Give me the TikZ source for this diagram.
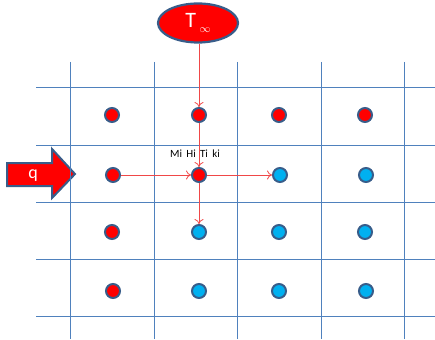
\documentclass[tikz,border=0pt]{standalone}
\usepackage{fontspec}
\setmainfont{Carlito}
\usetikzlibrary{shapes.geometric,arrows.meta}
\definecolor{gridblue}{HTML}{4F81BD}
\definecolor{edgeblue}{HTML}{385D8A}
\definecolor{hotred}{HTML}{FF0000}
\definecolor{coldblue}{HTML}{00B0F0}
\definecolor{flowred}{HTML}{F04848}
\tikzset{
  gridline/.style={draw=gridblue, line width=0.9pt},
  hotdot/.style={circle, fill=hotred, draw=edgeblue, line width=2pt, minimum size=14pt, inner sep=0pt},
  colddot/.style={circle, fill=coldblue, draw=edgeblue, line width=2pt, minimum size=14pt, inner sep=0pt},
  flow/.style={draw=flowred, line width=0.8pt, -{To[length=5pt,width=9pt]}},
}
\begin{document}
\begin{tikzpicture}[x=1pt,y=-1pt]
\useasboundingbox (0,0) rectangle (435,339);
% heat flux arrow
\draw[fill=hotred, draw=edgeblue, line width=2pt, line join=miter]
  (7,163) -- (52,163) -- (52,149) -- (75,174) -- (52,198) -- (52,186) -- (7,186) -- cycle;
\node[text=white, font=\fontsize{18}{18}\selectfont, inner sep=0pt] (q) at (33,176) {q};
% grid
\foreach \x in {70,154,237,321,404}
  \draw[gridline] (\x,62) -- (\x,339);
\foreach \y in {87,145,202,259,316}
  \draw[gridline] (36,\y) -- (435,\y);
% ellipse
\node[ellipse, fill=hotred, draw=edgeblue, line width=2.2pt,
      minimum width=80pt, minimum height=39pt, inner sep=0pt,
      text=white] (T) at (198,23) {\fontsize{22}{22}\selectfont T\,\raisebox{-5pt}{\fontsize{11}{11}\selectfont$\infty$}};
% dots
\node[hotdot] (d11) at (112,115) {};
\node[hotdot] (d12) at (199,115) {};
\node[hotdot] (d13) at (279,115) {};
\node[hotdot] (d14) at (365,115) {};
\node[hotdot] (d21) at (113,175) {};
\node[hotdot] (d22) at (199,175) {};
\node[colddot] (d23) at (280,175) {};
\node[colddot] (d24) at (366,175) {};
\node[hotdot] (d31) at (112,232) {};
\node[colddot] (d32) at (199,232) {};
\node[colddot] (d33) at (279,232) {};
\node[colddot] (d34) at (365,232) {};
\node[hotdot] (d41) at (113,291) {};
\node[colddot] (d42) at (199,291) {};
\node[colddot] (d43) at (279,291) {};
\node[colddot] (d44) at (366,291) {};
% label
\node[font=\fontsize{11}{11}\selectfont] (lbl) at (195,154) {Mi\, Hi\, Ti\, ki};
% flows
\draw[flow] (T.south -| d12) -- (d12.north);
\draw[flow] (d12.south) -- (d22.north);
\draw[flow] (d22.south) -- (d32.north);
\draw[flow] (d21.east) -- (d22.west);
\draw[flow] (d22.east) -- (d23.west);
\end{tikzpicture}
\end{document}
